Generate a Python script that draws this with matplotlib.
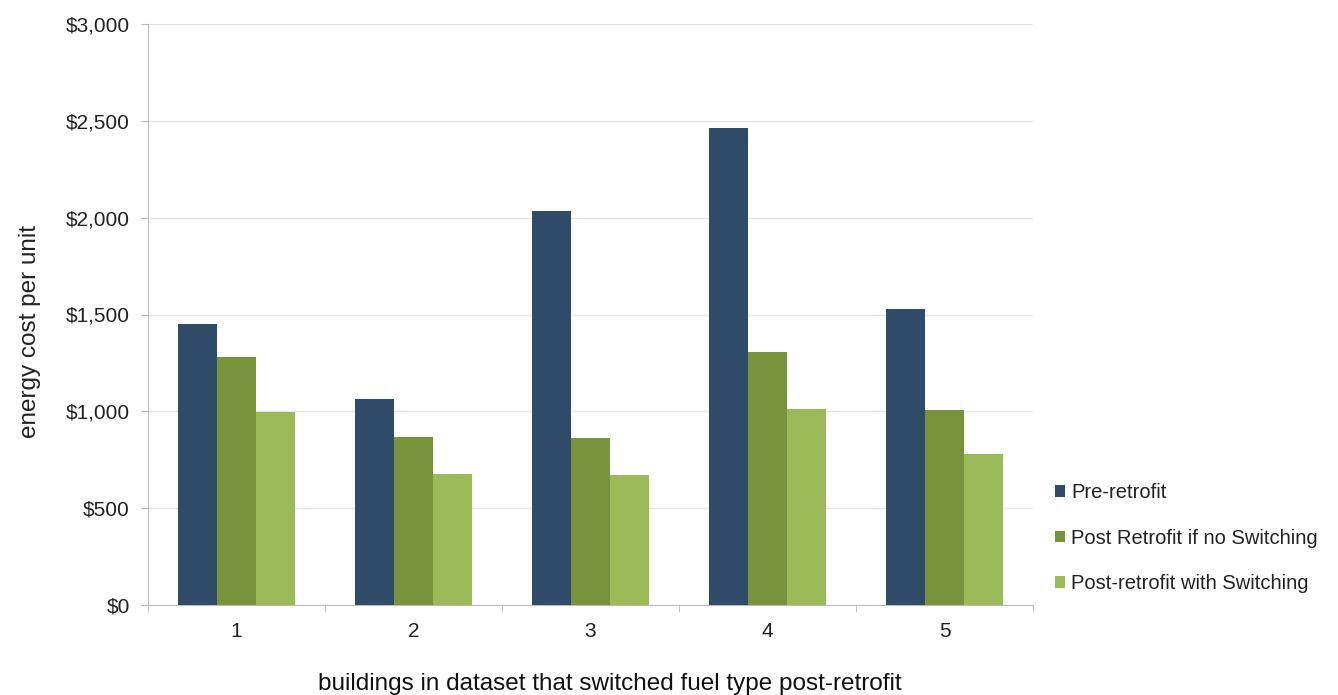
import matplotlib
matplotlib.use("Agg")
import matplotlib.pyplot as plt
import numpy as np
from matplotlib.ticker import FuncFormatter

plt.rcParams['font.family'] = ['Liberation Sans', 'DejaVu Sans']

categories = ["1", "2", "3", "4", "5"]
pre_retrofit = [1451, 1063, 2034, 2462, 1528]
post_no_switch = [1280, 867, 862, 1306, 1007]
post_switch = [996, 676, 671, 1012, 780]
series_names = ["Pre-retrofit", "Post Retrofit if no Switching", "Post-retrofit with Switching"]
colors = ["#2F4B68", "#77933C", "#9BBB59"]

fig = plt.figure(figsize=(13.38, 6.95), dpi=100)
ax = fig.add_axes([148/1338, 1 - 605/695, (1033-148)/1338, (605-24)/695])

x = np.arange(len(categories))
w = 0.221
for i, (vals, name, c) in enumerate(zip([pre_retrofit, post_no_switch, post_switch], series_names, colors)):
    ax.bar(x + (i - 1) * w, vals, width=w, color=c, label=name, zorder=3)

ax.set_xlim(-0.5, len(categories) - 0.5)
ax.set_ylim(0, 3000)
ax.set_yticks(np.arange(0, 3001, 500))
ax.yaxis.set_major_formatter(FuncFormatter(lambda v, p: f"${v:,.0f}"))
ax.set_xticks(x)
ax.set_xticklabels(categories)
ax.set_xticks(np.arange(-0.5, len(categories) + 0.5, 1), minor=True)
ax.tick_params(axis='x', which='major', length=0, labelsize=15, colors='#222222', pad=12)
ax.tick_params(axis='x', which='minor', length=5, color='#BBBBBB', direction='out')
ax.tick_params(axis='y', length=5, color='#BBBBBB', labelsize=15, labelcolor='#222222', pad=8)

ax.grid(axis='y', color='#E6E6E6', linewidth=1, zorder=0)
for s in ['top', 'right']:
    ax.spines[s].set_visible(False)
ax.spines['left'].set_color('#BBBBBB')
ax.spines['bottom'].set_color('#BBBBBB')

fig.text(30/1338, 1 - 332/695, "energy cost per unit", rotation=90, ha='center', va='center', fontsize=17.5, color='#222222')
fig.text(610/1338, 1 - 684/695, "buildings in dataset that switched fuel type post-retrofit", ha='center', va='center', fontsize=17.5, color='#111111')

leg = ax.legend(loc='center left', bbox_to_anchor=(1037/1338, 1 - 538/695), bbox_transform=fig.transFigure,
                frameon=False, fontsize=14.5, handlelength=0.5, handleheight=0.5, handletextpad=0.3,
                labelspacing=1.32)
for t in leg.get_texts():
    t.set_color('#222222')

fig.savefig("out.png", dpi=100)
